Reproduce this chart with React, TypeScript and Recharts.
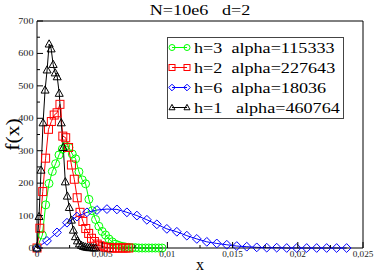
import { Label, Legend, Line, LineChart, XAxis, YAxis } from 'recharts';

const SERIF = '"Liberation Serif", "DejaVu Serif", serif';

// h=3 (green circles)
const h3X = [
  0, 0.00041, 0.000665, 0.00092, 0.001175, 0.00143, 0.001685, 0.00194, 0.002195, 0.00245,
  0.002705, 0.00296, 0.003215, 0.00347, 0.003725, 0.00398, 0.004235, 0.00449, 0.004745, 0.005,
  0.005255, 0.00551, 0.005765, 0.00602, 0.006275, 0.00653, 0.006785, 0.00704, 0.007295, 0.00755,
  0.007805, 0.00806, 0.008315, 0.00857, 0.008825, 0.00908, 0.009335, 0.00959,
];
const h3F = [
  0, 40, 133, 199, 236, 260, 287, 305, 315, 310,
  290, 275, 235, 210, 198, 150, 115, 88, 67, 51,
  40, 28, 19, 12, 8, 5, 3, 2, 1, 1,
  0, 0, 0, 0, 0, 0, 0, 0,
];

// h=2 (red squares)
const h2X = [
  0, 0.00022, 0.00044, 0.00066, 0.00088, 0.0011, 0.00132, 0.00154, 0.00176, 0.00198,
  0.0022, 0.00242, 0.00264, 0.00286, 0.00308, 0.0033, 0.00352, 0.00374, 0.00396, 0.00418,
  0.0044, 0.00462, 0.00484, 0.00506, 0.00528, 0.0055, 0.00572, 0.00594, 0.00616, 0.00638,
  0.0066, 0.00682, 0.00704,
];
const h2F = [
  0, 61, 174, 277, 366, 390, 410, 417, 443, 345,
  340, 310, 256, 212, 155, 110, 82, 60, 45, 30,
  20, 12, 7, 4, 2, 1, 0, 0, 0, 0,
  0, 0, 0,
];

// h=6 (blue diamonds)
const h6X = [
  0, 0.000766, 0.001532, 0.002298, 0.003064, 0.00383, 0.004596, 0.005362, 0.006128, 0.006894,
  0.00766, 0.008426, 0.009192, 0.009958, 0.010724, 0.01149, 0.012256, 0.013022, 0.013788, 0.014554,
  0.01532, 0.016086, 0.016852, 0.017618, 0.018384, 0.01915, 0.019916, 0.020682, 0.021448, 0.022214,
  0.02298, 0.023746,
];
const h6F = [
  0, 22, 48, 78, 97, 110, 117, 120, 119, 110,
  100, 87, 73, 59, 50, 38, 28, 19, 14, 10,
  6, 4, 2, 1, 1, 0, 0, 0, 0, 0,
  0, 0,
];

// h=1 (black triangles)
const h1X = [
  0, 0.000155, 0.00031, 0.000465, 0.00062, 0.000775, 0.00093, 0.001085, 0.00124, 0.001395,
  0.00155, 0.001705, 0.00186, 0.002015, 0.00217, 0.002325, 0.00248, 0.002635, 0.00279, 0.002945,
  0.0031, 0.003255, 0.00341, 0.003565, 0.00372, 0.003875, 0.00403, 0.004185, 0.00434, 0.004495,
];
const h1F = [
  0, 97, 240, 386, 487, 549, 629, 614, 566, 540,
  528, 477, 386, 310, 204, 160, 125, 86, 55, 35,
  22, 13, 8, 5, 3, 2, 1, 1, 0, 0,
];

const legendLabels = ['h=3  alpha=115333', 'h=2  alpha=227643', 'h=6  alpha=18036', 'h=1   alpha=460764'];
const xTicks = [0, 0.0025, 0.005, 0.0075, 0.01, 0.0125, 0.015, 0.0175, 0.02, 0.0225, 0.025];
const yTicks = [0, 50, 100, 150, 200, 250, 300, 350, 400, 450, 500, 550, 600, 650, 700];

type Shape = 'circle' | 'square' | 'diamond' | 'triangle';

const zip = (xs: number[], fs: number[]) => xs.map((x, i) => ({ x, f: fs[i] }));

const series: { label: string; colour: string; shape: Shape; data: { x: number; f: number }[] }[] = [
  { label: legendLabels[0], colour: '#00ff00', shape: 'circle', data: zip(h3X, h3F) },
  { label: legendLabels[1], colour: '#ff0000', shape: 'square', data: zip(h2X, h2F) },
  { label: legendLabels[2], colour: '#0000ff', shape: 'diamond', data: zip(h6X, h6F) },
  { label: legendLabels[3], colour: '#000000', shape: 'triangle', data: zip(h1X, h1F) },
];

function marker(shape: Shape, colour: string, cx: number, cy: number, s: number, key?: string | number) {
  const common = { fill: 'none', stroke: colour, strokeWidth: 1 };
  switch (shape) {
    case 'circle':
      return <circle key={key} cx={cx} cy={cy} r={s} {...common} />;
    case 'square':
      return <rect key={key} x={cx - s} y={cy - s} width={2 * s} height={2 * s} {...common} />;
    case 'diamond':
      return (
        <polygon
          key={key}
          points={`${cx},${cy - s * 1.1} ${cx + s * 1.1},${cy} ${cx},${cy + s * 1.1} ${cx - s * 1.1},${cy}`}
          {...common}
        />
      );
    default:
      return (
        <polygon
          key={key}
          points={`${cx},${cy - s * 1.05} ${cx + s},${cy + s * 0.75} ${cx - s},${cy + s * 0.75}`}
          {...common}
        />
      );
  }
}

const isMajorX = (v: number) => Math.round(v / 0.0025) % 2 === 0;
const isMajorY = (v: number) => v % 100 === 0;

function BottomTick(props: any) {
  const { x, y, payload } = props;
  const major = isMajorX(payload.value);
  return (
    <g>
      <line x1={x} x2={x} y1={y} y2={y - (major ? 6 : 3)} stroke="#000" />
      {major && (
        <text
          transform={`translate(${x},${y + 8.5}) scale(1.15,1)`}
          textAnchor="middle"
          fontSize={8}
          fontFamily={SERIF}
          fill="#222"
        >
          {String(payload.value).replace('.', ',')}
        </text>
      )}
    </g>
  );
}

function TopTick(props: any) {
  const { x, y, payload } = props;
  const major = isMajorX(payload.value);
  return <line x1={x} x2={x} y1={y} y2={y + (major ? 6 : 3)} stroke="#000" />;
}

function LeftTick(props: any) {
  const { x, y, payload } = props;
  const major = isMajorY(payload.value);
  return (
    <g>
      <line x1={x} x2={x + (major ? 6 : 3)} y1={y} y2={y} stroke="#000" />
      {major && (
        <text
          transform={`translate(${x - 3.5},${y + 3}) scale(1.2,1)`}
          textAnchor="end"
          fontSize={8.5}
          fontFamily={SERIF}
          fill="#222"
        >
          {payload.value}
        </text>
      )}
    </g>
  );
}

function RightTick(props: any) {
  const { x, y, payload } = props;
  const major = isMajorY(payload.value);
  return <line x1={x} x2={x - (major ? 6 : 3)} y1={y} y2={y} stroke="#000" />;
}

function LegendBox() {
  return (
    <svg width={178} height={83} style={{ display: 'block' }}>
      <rect x={0.5} y={0.5} width={176} height={81} fill="#fff" stroke="#444" />
      {series.map((s, i) => {
        const cy = 10.5 + i * 20;
        return (
          <g key={s.label}>
            <line x1={5} x2={20} y1={cy} y2={cy} stroke={s.colour} />
            {marker(s.shape, s.colour, 5, cy, 3)}
            {marker(s.shape, s.colour, 20, cy, 3)}
            <text
              transform={`translate(27,${cy + 5}) scale(1.21,1)`}
              fontSize={15}
              fontFamily={SERIF}
              fill="#000"
              style={{ whiteSpace: 'pre' }}
            >
              {s.label}
            </text>
          </g>
        );
      })}
    </svg>
  );
}

export default function App() {
  return (
    <div style={{ position: 'absolute', left: 0, top: 0, background: '#fff' }}>
      <LineChart width={374} height={272} margin={{ top: 20, right: 10, bottom: 0, left: 0 }}>
        <XAxis
          xAxisId={0}
          dataKey="x"
          type="number"
          domain={[0, 0.025]}
          ticks={xTicks}
          interval={0}
          height={24}
          tickSize={0}
          tickMargin={0}
          tickLine={false}
          tick={<BottomTick />}
          axisLine={{ stroke: '#000' }}
        >
          <Label
            content={(p: any) => (
              <text
                x={p.viewBox.x + p.viewBox.width / 2}
                y={p.viewBox.y + 22}
                textAnchor="middle"
                fontSize={16}
                fontFamily={SERIF}
                fill="#000"
              >
                x
              </text>
            )}
          />
        </XAxis>
        <XAxis
          xAxisId="top"
          orientation="top"
          dataKey="x"
          type="number"
          domain={[0, 0.025]}
          ticks={xTicks}
          interval={0}
          height={1}
          tickSize={0}
          tickMargin={0}
          tickLine={false}
          tick={<TopTick />}
          axisLine={{ stroke: '#000' }}
        >
          <Label
            content={(p: any) => (
              <text
                transform={`translate(${p.viewBox.x + p.viewBox.width / 2},15) scale(1.21,1)`}
                textAnchor="middle"
                fontSize={15}
                fontFamily={SERIF}
                fill="#000"
                style={{ whiteSpace: 'pre' }}
              >
                {'N=10e6   d=2'}
              </text>
            )}
          />
        </XAxis>
        <YAxis
          yAxisId={0}
          type="number"
          domain={[0, 700]}
          ticks={yTicks}
          interval={0}
          width={37}
          tickSize={0}
          tickMargin={0}
          tickLine={false}
          tick={<LeftTick />}
          axisLine={{ stroke: '#000' }}
        >
          <Label
            content={(p: any) => (
              <text
                transform={`translate(19,${p.viewBox.y + p.viewBox.height / 2}) rotate(-90) scale(1.35,1.15)`}
                textAnchor="middle"
                fontSize={16}
                fontFamily={SERIF}
                fill="#000"
              >
                f(x)
              </text>
            )}
          />
        </YAxis>
        <YAxis
          yAxisId="right"
          orientation="right"
          type="number"
          domain={[0, 700]}
          ticks={yTicks}
          interval={0}
          width={1}
          tickSize={0}
          tickMargin={0}
          tickLine={false}
          tick={<RightTick />}
          axisLine={{ stroke: '#000' }}
        />
        {series.map((s) => (
          <Line
            key={s.label}
            data={s.data}
            dataKey="f"
            xAxisId={0}
            yAxisId={0}
            type="linear"
            stroke={s.colour}
            strokeWidth={1}
            dot={(p: any) => marker(s.shape, s.colour, p.cx, p.cy, 4, p.index)}
            activeDot={false}
            isAnimationActive={false}
          />
        ))}
        <Legend
          layout="vertical"
          align="center"
          verticalAlign="middle"
          wrapperStyle={{ left: 167, top: 37, width: 178 }}
          content={() => <LegendBox />}
        />
      </LineChart>
    </div>
  );
}
